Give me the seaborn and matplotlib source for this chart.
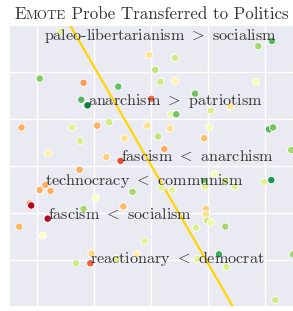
import matplotlib
matplotlib.use("Agg")
import matplotlib.pyplot as plt
import seaborn as sns
import pandas as pd
from matplotlib.offsetbox import TextArea, HPacker, AnchoredOffsetbox

# ==========================================================
# Data
# ==========================================================

point_x = [-1.60, 1.88, 2.12, -0.04, 0.42, 0.07, -1.96, -1.19, 0.16, 0.42,
           1.84, -0.58, 0.77, -1.23, 0.00, -1.12, 0.35, 0.44, 1.05, 1.39,
           -2.28, -1.39, -0.95, -0.74, -0.07, 0.33, 1.02, 2.07, 2.14, -1.25,
           -0.47, 0.12, 0.93, -1.81, -0.79, -0.54, 0.23, 2.46, -1.26, 1.12,
           0.93, 1.30, 1.98, 2.11, -1.86, -1.96, -1.77, -0.33, 0.18, 0.37,
           0.95, 1.47, -0.98, -2.14, -2.11, -1.19, -0.49, 0.96, 0.96, -1.82,
           -2.32, 0.98, 1.05, 0.79, 1.30, -1.91, -0.12, -1.05, -0.25, -0.61,
           -1.32, -1.07, 0.81, 1.19, 1.32, 2.49, 2.18]

point_y = [2.85, 2.55, 2.66, 2.36, 2.30, 2.05, 1.86, 1.77, 1.79, 1.81,
           1.79, 1.69, 1.54, 1.41, 1.43, 1.29, 1.10, 1.10, 1.18, 1.27,
           0.82, 0.82, 0.86, 0.93, 0.86, 0.80, 0.82, 0.78, 0.82, 0.53,
           0.59, 0.63, 0.59, 0.27, 0.19, 0.11, 0.36, 0.34, -0.08, -0.17,
           -0.32, -0.32, -0.34, -0.30, -0.40, -0.51, -0.53, -0.55, -0.46, -0.51,
           -0.44, -0.44, -0.68, -0.80, -0.84, -0.91, -0.86, -0.91, -1.03, -1.12,
           -1.29, -1.16, -1.20, -1.31, -1.29, -1.48, -1.60, -1.86, -1.88, -1.98,
           -2.07, -2.07, -1.98, -1.88, -2.15, -1.88, -2.85]

point_score = [0.58, 0.70, 0.82, 0.42, 0.62, 0.65, 0.75, 0.27, 0.62, 0.45,
               0.52, 0.80, 0.78, 0.82, 0.20, 0.95, 0.55, 0.78, 0.60, 0.42,
               0.30, 0.58, 0.30, 0.62, 0.40, 0.40, 0.52, 0.82, 0.78, 0.60,
               0.40, 0.65, 0.33, 0.45, 0.37, 0.15, 0.30, 0.70, 0.30, 0.52,
               0.80, 0.62, 0.58, 0.90, 0.30, 0.30, 0.30, 0.70, 0.58, 0.58,
               0.58, 0.58, 0.50, 0.28, 0.02, 0.70, 0.32, 0.37, 0.40, 0.02,
               0.32, 0.62, 0.55, 0.60, 0.70, 0.50, 0.58, 0.38, 0.45, 0.60,
               0.62, 0.18, 0.58, 0.85, 0.60, 0.70, 0.62]

label_text = ["paleo-libertarianism $>$ socialism",
              "anarchism $>$ patriotism",
              "fascism $<$ anarchism",
              "technocracy $<$ communism",
              "fascism $<$ socialism",
              "reactionary $<$ democrat"]
label_x = [-1.88, -1.12, -0.54, -1.86, -1.82, -1.07]
label_y = [2.68, 1.29, 0.11, -0.40, -1.12, -2.07]

boundary_x = [-1.43, 1.44]
boundary_y = [3.0, -3.0]

# ==========================================================
# Plot
# ==========================================================

sns.set_theme(style="darkgrid")
plt.rcParams["font.family"] = ["cmr10"]
plt.rcParams["mathtext.fontset"] = "cm"
plt.rcParams["axes.formatter.use_mathtext"] = True

df = pd.DataFrame({"x": point_x, "y": point_y, "score": point_score})

fig = plt.figure(figsize=(2.93, 3.11), dpi=100)
ax = fig.add_axes([9 / 293, 4 / 311, 284.5 / 293, 282 / 311])

sns.scatterplot(data=df, x="x", y="y", hue="score", palette="RdYlGn",
                hue_norm=(0, 1), s=28, edgecolor="white", linewidth=0.6,
                legend=False, ax=ax, zorder=3)

ax.plot(boundary_x, boundary_y, color="#ffd500", lw=1.6, zorder=2)

for txt, tx, ty in zip(label_text, label_x, label_y):
    ax.text(tx, ty, txt, fontsize=11.6, color="#333333",
            ha="left", va="baseline", zorder=4)

ax.set_xlim(-2.5, 2.5)
ax.set_ylim(-3, 3)
ax.set_xticks([-2, -1, 0, 1, 2])
ax.set_yticks([-2, -1, 0, 1, 2])
ax.set_xticklabels([])
ax.set_yticklabels([])
ax.tick_params(length=0)
ax.set_xlabel("")
ax.set_ylabel("")

parts = [
    TextArea("E", textprops=dict(size=12.2, color="#333333")),
    TextArea("MOTE", textprops=dict(size=9.4, color="#333333")),
    TextArea(" Probe Transferred to Politics", textprops=dict(size=12.2, color="#333333")),
]
title_box = HPacker(children=parts, align="baseline", pad=0, sep=0)
anchored = AnchoredOffsetbox(loc="lower center", child=title_box, pad=0,
                             borderpad=0, frameon=False,
                             bbox_to_anchor=(151.5 / 293, 1 - 22 / 311),
                             bbox_transform=fig.transFigure)
fig.add_artist(anchored)

fig.savefig("out.png", dpi=100)
